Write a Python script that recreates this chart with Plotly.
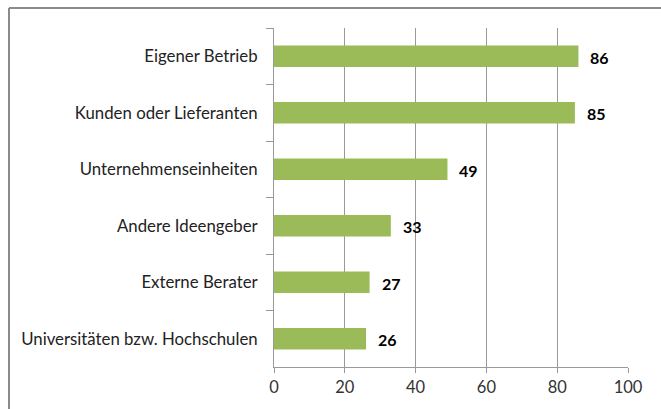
import plotly.graph_objects as go

categories = ["Eigener Betrieb", "Kunden oder Lieferanten", "Unternehmenseinheiten",
              "Andere Ideengeber", "Externe Berater", "Universitäten bzw. Hochschulen"]
values = [86, 85, 49, 33, 27, 26]
tick_vals = [0, 20, 40, 60, 80, 100]

FONT = "Lato"
GRID = "#999999"

fig = go.Figure(go.Bar(
    x=values, y=categories, orientation="h",
    marker=dict(color="#9BBB59", line=dict(width=0)),
    width=0.38,
))

for v, c in zip(values, categories):
    fig.add_annotation(x=v, y=c, text=f"<b>{v}</b>", showarrow=False,
                       xanchor="left", xshift=10, yshift=-1,
                       font=dict(family=FONT, size=16, color="black"))

fig.update_layout(
    width=661, height=409,
    margin=dict(l=274, r=33, t=28, b=42),
    plot_bgcolor="white", paper_bgcolor="white",
    showlegend=False,
    font=dict(family=FONT, size=17, color="black"),
    bargap=0.62,
)
fig.update_xaxes(range=[0, 100], tickvals=tick_vals, showgrid=True, gridcolor=GRID,
                 gridwidth=1, showline=True, linecolor=GRID, linewidth=1,
                 ticks="outside", ticklen=5, tickcolor=GRID, zeroline=False,
                 tickfont=dict(family=FONT, size=16.5, color="#333"))
fig.update_yaxes(autorange="reversed", showline=True, linecolor=GRID, linewidth=1,
                 ticks="outside", ticklen=7, tickcolor=GRID, tickson="boundaries",
                 showgrid=False, ticklabelstandoff=12,
                 tickfont=dict(family=FONT, size=16.8, color="#222"))

# outer chart frame (partially visible)
fig.add_shape(type="line", xref="paper", yref="paper", x0=(9 - 274) / 354, x1=1.2,
              y0=1 + 20 / 339, y1=1 + 20 / 339, line=dict(color="#8a8a8a", width=2))
fig.add_shape(type="line", xref="paper", yref="paper", x0=(9 - 274) / 354, x1=(9 - 274) / 354,
              y0=1 + 20 / 339, y1=-0.2, line=dict(color="#8a8a8a", width=2))

fig.write_html("out.html")
